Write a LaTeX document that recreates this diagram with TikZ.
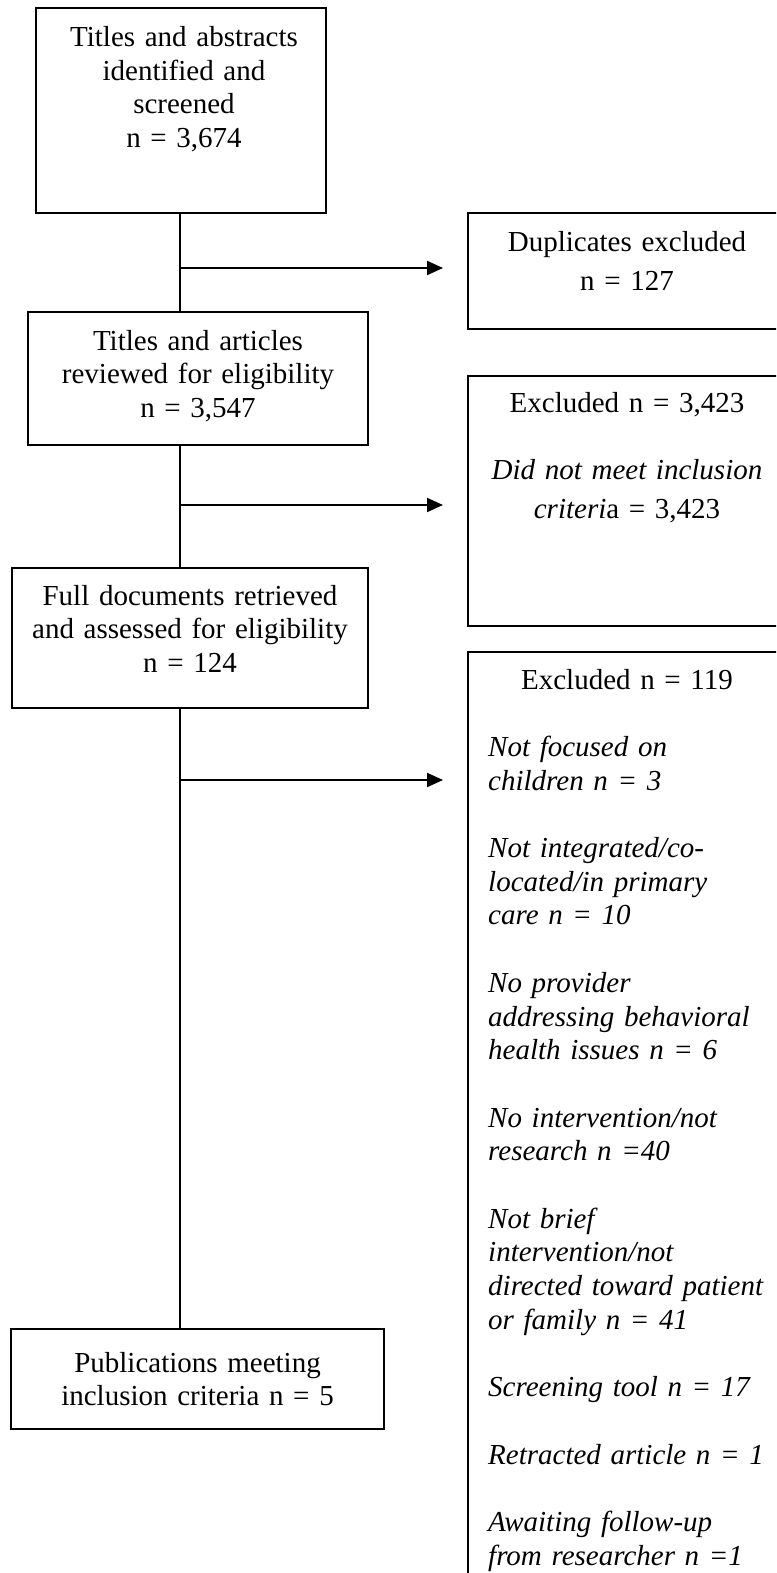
\documentclass[tikz,border=0pt]{standalone}
\usepackage{fontspec}
\setmainfont{Liberation Serif}
\usetikzlibrary{arrows.meta}
\tikzset{
  box/.style={draw, line width=2pt, inner sep=0pt, outer sep=0pt},
  txt/.style={inner sep=0pt, align=center, text width=360pt, anchor=base, font=\fontsize{29}{33.5}\selectfont},
  wtxt/.style={inner sep=0pt, align=center, text width=360pt, anchor=base, font=\fontsize{29}{39}\selectfont},
  ltxt/.style={inner sep=0pt, align=left, text width=300pt, anchor=base west, font=\itshape\fontsize{29}{33.7}\selectfont},
  arr/.style={line width=2pt, -{Triangle[length=16pt,width=14pt]}, shorten >=25pt},
  trunk/.style={line width=2pt}
}
\begin{document}
\begin{tikzpicture}[x=1pt,y=-1pt]
\useasboundingbox (0,0) rectangle (776,1573);
\clip (0,0) rectangle (776,1573);
% boxes
\node[box, minimum width=290pt, minimum height=205pt] (box1) at (181,110.5) {};
\node[box, minimum width=340pt, minimum height=133pt] (box2) at (198,378.5) {};
\node[box, minimum width=356pt, minimum height=140pt] (box4) at (190,638) {};
\node[box, minimum width=373pt, minimum height=100pt] (box6) at (197.5,1379) {};
\node[box, minimum width=318pt, minimum height=116pt] (dup) at (627,271) {};
\node[box, minimum width=318pt, minimum height=250pt] (box3) at (627,501) {};
\node[box, minimum width=318pt, minimum height=968pt] (box5) at (627,1136) {};
% texts
\node[txt] (t1) at (184,47) {Titles and abstracts\\ identified and\\ screened\\ n = 3,674};
\node[txt] (t2) at (198,350) {Titles and articles\\ reviewed for eligibility\\ n = 3,547};
\node[txt] (t4) at (190,605) {Full documents retrieved\\ and assessed for eligibility\\ n = 124};
\node[txt] (t6) at (197.5,1372) {Publications meeting\\ inclusion criteria n = 5};
\node[wtxt] (td) at (627,251) {Duplicates excluded\\ n = 127};
\node[txt] (t3a) at (627,412) {Excluded n = 3,423};
\node[wtxt] (t3b) at (627,479) {\textit{Did not meet inclusion}\\ \textit{criteri}a = 3,423};
\node[txt] (t5a) at (627,689) {Excluded n = 119};
\node[ltxt] (t5b) at (488,756.4) {Not focused on\\ children n = 3\\[33.7pt]
Not integrated/co-\\ located/in primary\\ care n = 10\\[33.7pt]
No provider\\ addressing behavioral\\ health issues n = 6\\[33.7pt]
No intervention/not\\ research n =40\\[33.7pt]
Not brief\\ intervention/not\\ directed toward patient\\ or family n = 41\\[33.7pt]
Screening tool n = 17\\[33.7pt]
Retracted article n = 1\\[33.7pt]
Awaiting follow-up\\ from researcher n =1};
% trunk
\coordinate (tx) at (180,0);
\draw[trunk] (box1.south -| tx) -- (box2.north -| tx);
\draw[trunk] (box2.south -| tx) -- (box4.north -| tx);
\draw[trunk] (box4.south -| tx) -- (box6.north -| tx);
% arrows
\coordinate (a1) at (180,268);
\coordinate (a2) at (180,505);
\coordinate (a3) at (180,780);
\draw[arr] (a1) -- (a1 -| dup.west);
\draw[arr] (a2) -- (a2 -| box3.west);
\draw[arr] (a3) -- (a3 -| box5.west);
\end{tikzpicture}
\end{document}
